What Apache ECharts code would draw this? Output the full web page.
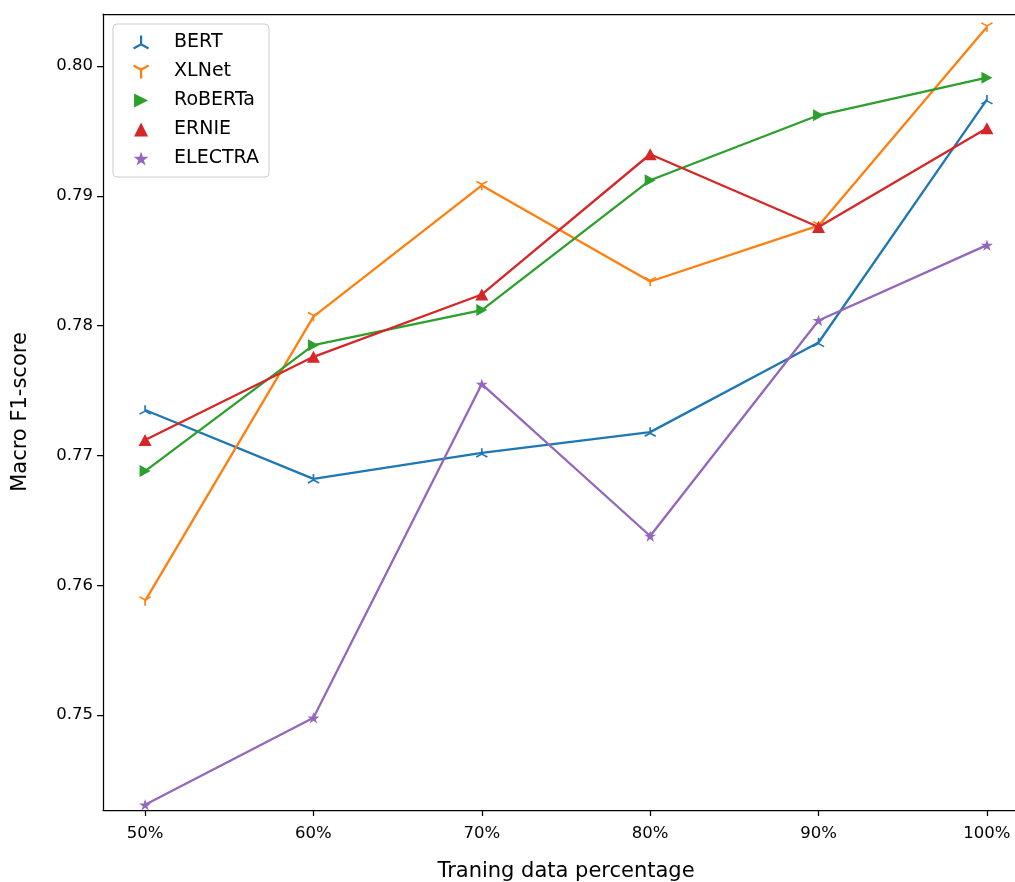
<!DOCTYPE html>
<html>
<head>
<meta charset="utf-8">
<script src="https://cdn.jsdelivr.net/npm/echarts@6/dist/echarts.min.js"></script>
<style>html,body{margin:0;padding:0;background:#fff}#c{width:1015px;height:882px}</style>
</head>
<body>
<div id="c"></div>
<script>
const percentages = [50, 60, 70, 80, 90, 100];
const xTicks = [50, 60, 70, 80, 90, 100];
const yTicks = [0.75, 0.76, 0.77, 0.78, 0.79, 0.80];
const seriesNames = ['BERT', 'XLNet', 'RoBERTa', 'ERNIE', 'ELECTRA'];
const bert    = [0.7735, 0.7682, 0.7702, 0.7718, 0.7787, 0.7974];
const xlnet   = [0.7588, 0.7807, 0.7908, 0.7834, 0.7877, 0.8030];
const roberta = [0.7688, 0.7785, 0.7812, 0.7912, 0.7962, 0.7991];
const ernie   = [0.7712, 0.7776, 0.7824, 0.7932, 0.7876, 0.7952];
const electra = [0.7431, 0.7498, 0.7755, 0.7638, 0.7804, 0.7862];

const triUp = 'path://M-1.3,0 L-1.3,-10 L1.3,-10 L1.3,0 Z M0.65,-1.13 L9.31,3.87 L8.01,6.13 L-0.65,1.13 Z M0.65,1.13 L-8.01,6.13 L-9.31,3.87 L-0.65,-1.13 Z';
const triDown = 'path://M-1.3,0 L-1.3,10 L1.3,10 L1.3,0 Z M0.65,1.13 L9.31,-3.87 L8.01,-6.13 L-0.65,-1.13 Z M0.65,-1.13 L-8.01,-6.13 L-9.31,-3.87 L-0.65,1.13 Z';
const triRight = 'path://M0,0 L10,5 L0,10 Z';
const triUpFilled = 'path://M5,0 L10,10 L0,10 Z';
const star = 'path://M50,0 L61.2,34.5 L97.6,34.5 L68.2,55.9 L79.4,90.5 L50,69.1 L20.6,90.5 L31.8,55.9 L2.4,34.5 L38.8,34.5 Z';

const colors = ['#1f77b4', '#ff7f0e', '#2ca02c', '#d62728', '#9467bd'];
const symbols = [triUp, triDown, triRight, triUpFilled, star];
const sizes = [[12, 11], [12, 11], [11, 12], [13, 12], [12, 12]];
const values = [bert, xlnet, roberta, ernie, electra];

const font = 'DejaVu Sans';
const axisLineStyle = {color: '#000', width: 1.25};
const chart = echarts.init(document.getElementById('c'), null, {renderer: 'canvas'});
chart.setOption({
  animation: false,
  backgroundColor: '#fff',
  color: colors,
  textStyle: {fontFamily: font},
  grid: {left: 103, top: 14, width: 926, height: 796, show: false, outerBoundsMode: 'none', containLabel: false},
  legend: {
    orient: 'vertical', left: 113, top: 24,
    padding: [9, 10, 9, 20],
    itemWidth: 56, itemHeight: 14, itemGap: 10,
    borderColor: '#cccccc', borderWidth: 1, borderRadius: 4,
    backgroundColor: 'rgba(255,255,255,0.8)',
    textStyle: {fontFamily: font, fontSize: 19, color: '#000', lineHeight: 18},
    data: seriesNames.map((n, i) => ({name: n, icon: symbols[i]}))
  },
  xAxis: [{
    type: 'value', min: 47.5, max: 102.5,
    name: 'Traning data percentage', nameLocation: 'middle', nameGap: 51,
    nameTextStyle: {fontFamily: font, fontSize: 21, color: '#000'},
    axisLine: {show: true, lineStyle: axisLineStyle},
    axisTick: {show: true, inside: false, length: 6, lineStyle: axisLineStyle, customValues: xTicks},
    axisLabel: {fontFamily: font, fontSize: 16.5, color: '#000', margin: 15, customValues: xTicks, formatter: v => v + '%'},
    splitLine: {show: false}
  }, {
    type: 'value', position: 'top', min: 47.5, max: 102.5,
    axisLine: {show: true, lineStyle: axisLineStyle},
    axisTick: {show: false}, axisLabel: {show: false}, splitLine: {show: false}
  }],
  yAxis: {
    type: 'value', min: 0.7427, max: 0.8040,
    name: 'Macro F1-score', nameLocation: 'middle', nameGap: 72, nameRotate: 90,
    nameTextStyle: {fontFamily: font, fontSize: 21, color: '#000'},
    axisLine: {show: true, lineStyle: axisLineStyle},
    axisTick: {show: true, inside: false, length: 6, lineStyle: axisLineStyle, customValues: yTicks},
    axisLabel: {fontFamily: font, fontSize: 16.5, color: '#000', margin: 10, customValues: yTicks, formatter: v => v.toFixed(2)},
    splitLine: {show: false}
  },
  series: seriesNames.map((n, i) => ({
    name: n, type: 'line',
    xAxisIndex: 0,
    data: percentages.map((p, j) => [p, values[i][j]]),
    symbol: symbols[i], symbolSize: sizes[i], symbolKeepAspect: true,
    showSymbol: true,
    lineStyle: {width: 2.3, color: colors[i]},
    itemStyle: {color: colors[i], opacity: 1},
    z: 2 + i
  }))
});
</script>
</body>
</html>
